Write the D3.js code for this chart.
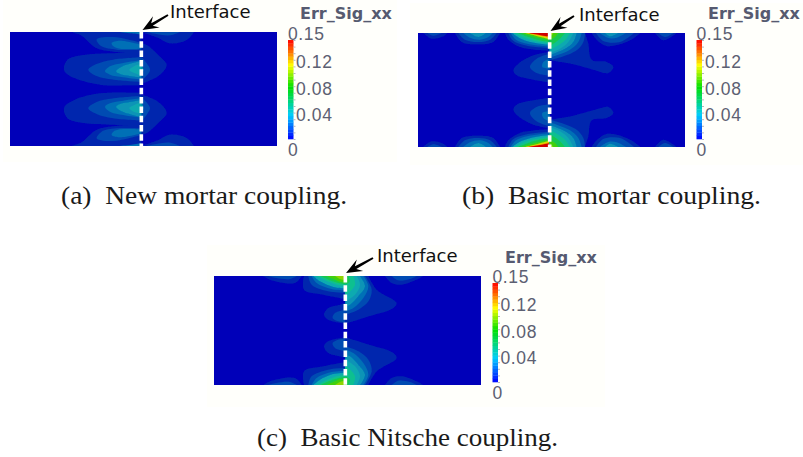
<!DOCTYPE html>
<html>
<head>
<meta charset="utf-8">
<script src="https://cdnjs.cloudflare.com/ajax/libs/d3/7.8.5/d3.min.js"></script>
<style>
  html, body { margin: 0; padding: 0; background: #fff; }
  svg { display: block; }
  .caption { font-family: "Liberation Serif", serif; font-size: 24.5px; fill: #1a1a1a; }
  .iface { font-family: "DejaVu Sans", sans-serif; font-size: 18px; fill: #111; }
  .cbtitle { font-family: "DejaVu Sans", sans-serif; font-weight: 700; font-size: 16px; fill: #565a70; }
  .cblabel { font-family: "Liberation Sans", sans-serif; font-size: 17.5px; letter-spacing: 0.6px; fill: #5c6072; }
</style>
</head>
<body>
<div id="chart"></div>
<script>
// error level colours of the contour bands, low to high
const bandColors = ["#0000b9", "#0428ae", "#044cb2", "#0570b6", "#0894b6", "#08aab0", "#10c090",
  "#18c850", "#40d010", "#90d400", "#d8d800", "#f0a000", "#e84000", "#d00000"];

const barStops = [0, 0.036, 0.079, 0.112, 0.13, 0.15];
const barColors = ["#0000ff", "#00ccff", "#00e000", "#ffff00", "#ff8000", "#ff0000"];
const tickValues = [0.15, 0.12, 0.08, 0.04, 0];
const tickLabels = ["0.15", "0.12", "0.08", "0.04", "0"];

const captions = ["(a)  New mortar coupling.", "(b)  Basic mortar coupling.", "(c)  Basic Nitsche coupling."];

// iso-bands of the upper half of each plot: [level, outline, closes at interface top]
const bandsA = [
  [1, [[215,96],[245,107],[265,125],[290,145],[340,155],[400,160],[424,160]], true],
  [1, [[424,97],[470,112],[510,130],[560,120],[582,96]]],
  [2, [[440,96],[470,102],[510,106],[540,96]]],
  [1, [[424,155],[330,160],[250,165],[205,177],[192,200],[195,216],[225,235],[300,254],[400,256],[424,256]]],
  [1, [[424,130],[440,135],[475,165],[500,195],[480,224],[440,245],[424,250]]],
  [2, [[424,129],[350,112],[310,112],[290,119],[305,139],[350,149],[424,149]]],
  [2, [[424,172],[340,179],[290,192],[265,209],[290,228],[350,240],[424,246]]],
  [2, [[424,170],[440,190],[450,210],[435,232],[424,240]]],
  [3, [[424,134],[360,122],[335,129],[340,139],[360,146],[424,146]]],
  [3, [[424,181],[370,189],[330,199],[315,214],[330,224],[370,232],[424,239]]],
  [3, [[355,96],[395,100],[424,104]], true],
  [4, [[424,183],[395,190],[365,200],[348,214],[360,222],[390,228],[424,233]]],
  [5, [[424,193],[405,197],[388,210],[405,220],[424,227]]],
  [5, [[424,195],[430,210],[424,228]]]
];

const bandsB = [
  [1, [[70,98],[95,115],[130,108],[142,98]]],
  [2, [[82,98],[100,106],[125,98]]],
  [1, [[165,98],[185,125],[235,132],[280,125],[300,98]]],
  [2, [[175,98],[195,118],[235,125],[270,118],[290,98]]],
  [3, [[190,98],[210,112],[240,118],[265,110],[278,98]]],
  [4, [[210,98],[235,110],[258,98]]],
  [1, [[575,98],[590,118],[620,137],[680,125],[722,98]]],
  [2, [[588,98],[610,122],[660,125],[702,98]]],
  [3, [[600,98],[625,113],[650,112],[678,98]]],
  [4, [[615,98],[630,108],[655,98]]],
  [1, [[765,98],[790,120],[830,98]]],
  [2, [[775,98],[795,110],[820,98]]],
  [1, [[449,155],[400,165],[355,190],[340,210],[350,225],[400,238],[449,246]]],
  [2, [[449,160],[410,175],[390,200],[410,218],[449,226]]],
  [3, [[449,175],[430,185],[427,200],[449,205]]],
  [1, [[555,98],[565,130],[575,178],[620,185],[640,200],[625,218],[580,208],[520,192],[449,180]], true],
  [1, [[315,98],[325,118],[360,140],[405,148],[449,151]], true],
  [2, [[325,98],[338,120],[375,135],[449,144]], true],
  [3, [[332,98],[348,118],[385,131],[449,139]], true],
  [5, [[337,98],[358,113],[395,126],[449,134]], true],
  [6, [[342,98],[368,111],[400,121],[449,129]], true],
  [7, [[352,98],[378,108],[410,118],[449,125]], true],
  [8, [[365,98],[393,107],[420,114],[449,120]], true],
  [10, [[376,98],[400,104],[425,111],[449,117]], true],
  [11, [[380,98],[405,103],[430,108],[449,113]], true],
  [13, [[386,98],[415,103],[435,107],[449,109]], true],
  [2, [[555,98],[550,125],[530,150],[490,168],[449,180]], true],
  [3, [[545,98],[535,125],[510,148],[470,165],[449,172]], true],
  [4, [[530,98],[520,125],[495,145],[460,160],[449,165]], true],
  [5, [[520,98],[505,125],[480,145],[449,157]], true],
  [6, [[510,98],[495,120],[470,138],[449,148]], true],
  [7, [[495,98],[480,115],[460,130],[449,138]], true],
  [8, [[475,98],[465,110],[449,120]], true],
  [9, [[460,98],[455,105],[449,110]], true]
];

const bandsC = [
  [1, [[190,109],[215,122],[285,130],[305,109]]],
  [2, [[205,109],[230,115],[270,118],[290,109]]],
  [1, [[555,109],[575,130],[605,135],[660,115],[668,109]]],
  [2, [[575,109],[595,122],[630,118],[650,109]]],
  [1, [[436,190],[420,195],[385,205],[372,225],[385,240],[436,252]]],
  [2, [[436,210],[405,220],[398,235],[415,245],[436,248]]],
  [1, [[505,109],[530,150],[590,190],[580,205],[500,232],[436,252]], true],
  [1, [[312,109],[312,150],[370,165],[436,178]], true],
  [2, [[325,109],[335,135],[385,155],[436,160]], true],
  [3, [[335,109],[350,130],[395,148],[436,152]], true],
  [5, [[340,109],[360,125],[400,142],[436,146]], true],
  [6, [[350,109],[375,122],[410,135],[436,140]], true],
  [7, [[362,109],[385,120],[415,130],[436,134]], true],
  [8, [[380,109],[400,118],[420,126],[436,128]], true],
  [9, [[405,109],[420,118],[436,122]], true],
  [2, [[495,109],[515,150],[505,185],[475,210],[436,225]], true],
  [3, [[490,109],[505,140],[490,175],[460,205],[436,215]], true],
  [4, [[480,109],[495,140],[475,170],[450,195],[436,200]], true],
  [5, [[470,109],[480,135],[465,165],[436,185]], true],
  [6, [[460,109],[465,135],[445,160],[436,165]], true],
  [7, [[445,109],[450,125],[436,135]], true]
];

const width = 803, height = 457;

const panels = [
  { bands: bandsA, left: 10, top: 32, h: 114, dx: [30, 831], dy: [96, 267], iface: 424,
    barX: 288, barTop: 40, titleX: 300, titleY: 19, labelX: 170, labelY: 17.5, tail: [168, 15], tip: [142.5, 30],
    zeroX: 288, tickX: 296, capX: 61, capY: 204, capW: 286, box: [3, 0, 394, 162] },
  { bands: bandsB, left: 418, top: 33, h: 114, dx: [54, 855], dy: [98, 269], iface: 449,
    barX: 696.5, barTop: 40, titleX: 708, titleY: 19, labelX: 579, labelY: 20.5, tail: [574, 16], tip: [550.5, 31],
    zeroX: 696.5, tickX: 705, capX: 462, capW: 299, capY: 204, box: [410, 3, 393, 162] },
  { bands: bandsC, left: 214, top: 276, h: 109, dx: [42, 843], dy: [109, 272.5], iface: 436,
    barX: 492.5, barTop: 283, titleX: 505, titleY: 262.5, labelX: 377, labelY: 262, tail: [373, 258], tip: [346, 273],
    zeroX: 492.5, tickX: 500.5, capX: 257, capW: 301, capY: 446, box: [207, 245, 398, 162] }
];

const svg = d3.select("#chart").append("svg")
  .attr("width", width)
  .attr("height", height);

svg.append("filter").attr("id", "soft")
  .attr("x", "-5%").attr("y", "-5%").attr("width", "110%").attr("height", "110%")
  .append("feGaussianBlur").attr("stdDeviation", 0.55);

const barColor = d3.scaleLinear().domain(barStops).range(barColors);
const panelW = 267, barH = 99, barW = 5.5, barSteps = 30;

panels.forEach(function(p, i) {
  svg.append("rect").attr("fill", "#fffffb")
    .attr("x", p.box[0]).attr("y", p.box[1]).attr("width", p.box[2]).attr("height", p.box[3]);

  const x = d3.scaleLinear().domain(p.dx).range([p.left, p.left + panelW]);
  const yUp = d3.scaleLinear().domain(p.dy).range([p.top, p.top + p.h / 2]);
  const yDown = d3.scaleLinear().domain(p.dy).range([p.top + p.h, p.top + p.h / 2]);

  svg.append("clipPath").attr("id", "clip" + i)
    .append("rect").attr("x", p.left).attr("y", p.top).attr("width", panelW).attr("height", p.h);

  const g = svg.append("g").attr("filter", "url(#soft)");
  g.append("rect")
    .attr("x", p.left).attr("y", p.top).attr("width", panelW).attr("height", p.h)
    .attr("fill", bandColors[0]);

  const inner = g.append("g").attr("clip-path", "url(#clip" + i + ")");
  [yUp, yDown].forEach(function(y) {
    const line = d3.line().x(d => x(d[0])).y(d => y(d[1])).curve(d3.curveCatmullRom.alpha(0.5));
    inner.append("g").selectAll("path")
      .data(p.bands)
      .enter().append("path")
      .attr("fill", d => bandColors[d[0]])
      .attr("d", function(d) {
        // outline, then straight back along the edge it started from
        let s = line(d[1]);
        if (d[2]) s += "L" + x(p.iface) + "," + y(p.dy[0]);
        return s + "Z";
      });
  });

  // interface, dashed white
  g.append("line")
    .attr("x1", x(p.iface)).attr("x2", x(p.iface))
    .attr("y1", p.top).attr("y2", p.top + p.h)
    .attr("stroke", "#fff").attr("stroke-width", 3.6)
    .attr("stroke-dasharray", "6.5 2.8");

  // arrow to the interface
  const ang = Math.atan2(p.tip[1] - p.tail[1], p.tip[0] - p.tail[0]);
  const pt = (along, off) => [p.tip[0] - along * Math.cos(ang) - off * Math.sin(ang),
                              p.tip[1] - along * Math.sin(ang) + off * Math.cos(ang)];
  const tailLen = Math.hypot(p.tip[0] - p.tail[0], p.tip[1] - p.tail[1]);
  svg.append("path").attr("fill", "#000")
    .attr("d", d3.line()([pt(tailLen, 1), pt(11, 1.5), pt(16, 6.5), p.tip, pt(16, -6.5), pt(11, -1.5), pt(tailLen, -1)]) + "Z");

  svg.append("text").attr("class", "iface").attr("x", p.labelX).attr("y", p.labelY).text("Interface");

  // colour bar
  const barY = d3.scaleLinear().domain([0, 0.15]).range([p.barTop + barH, p.barTop]);
  svg.append("text").attr("class", "cbtitle").attr("x", p.titleX).attr("y", p.titleY).text("Err_Sig_xx");

  const steps = d3.range(barSteps).map(k => (k + 0.5) / barSteps * 0.15);
  svg.append("g").selectAll("rect")
    .data(steps)
    .enter().append("rect")
    .attr("x", p.barX)
    .attr("width", barW)
    .attr("y", d => barY(d + 0.0025))
    .attr("height", barH / barSteps + 0.3)
    .attr("fill", d => barColor(d));

  const axis = d3.axisRight(barY).tickValues(d3.range(0, 0.151, 0.01)).tickSize(2).tickFormat("");
  const ax = svg.append("g")
    .attr("transform", "translate(" + (p.barX + barW) + ",0)")
    .call(axis);
  ax.select(".domain").remove();
  ax.selectAll("line").attr("stroke", "#b4b6c0");

  svg.append("g").selectAll("text")
    .data(tickValues)
    .enter().append("text")
    .attr("class", "cblabel")
    .attr("x", (d, k) => (k === 0 || k === 4 ? p.zeroX : p.tickX))
    .attr("y", d => barY(d) + (d === 0.15 ? -6 : d === 0 ? 11 : 2))
    .attr("dy", "0.36em")
    .text((d, k) => tickLabels[k]);

  svg.append("text").attr("class", "caption")
    .attr("x", p.capX).attr("y", p.capY)
    .style("white-space", "pre")
    .attr("textLength", p.capW)
    .attr("lengthAdjust", "spacingAndGlyphs")
    .text(captions[i]);
});
</script>
</body>
</html>
